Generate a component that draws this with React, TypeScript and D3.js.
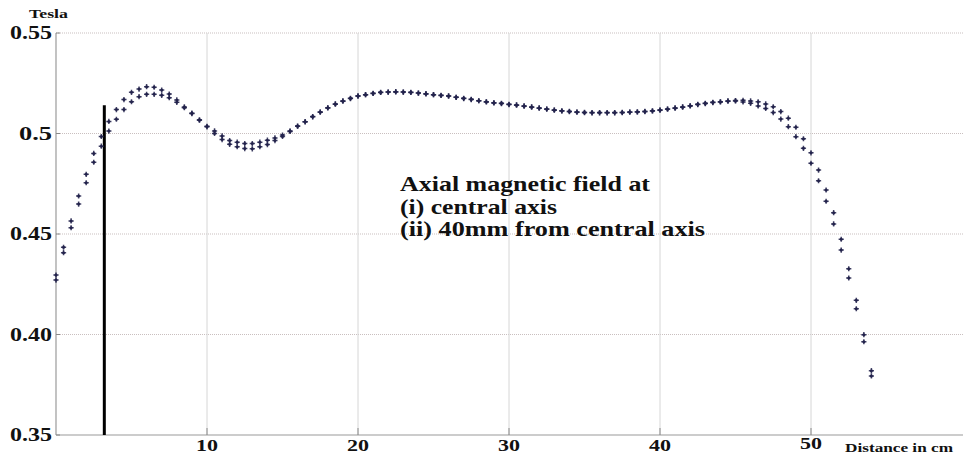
import React from "react";
import * as d3 from "d3";

const distances = [
  0, 0.5, 1, 1.5, 2, 2.5, 3, 3.5, 4, 4.5, 5, 5.5, 6, 6.5, 7, 7.5, 8, 8.5, 9, 9.5,
  10, 10.5, 11, 11.5, 12, 12.5, 13, 13.5, 14, 14.5, 15, 15.5, 16, 16.5, 17, 17.5, 18, 18.5, 19, 19.5,
  20, 20.5, 21, 21.5, 22, 22.5, 23, 23.5, 24, 24.5, 25, 25.5, 26, 26.5, 27, 27.5, 28, 28.5, 29, 29.5,
  30, 30.5, 31, 31.5, 32, 32.5, 33, 33.5, 34, 34.5, 35, 35.5, 36, 36.5, 37, 37.5, 38, 38.5, 39, 39.5,
  40, 40.5, 41, 41.5, 42, 42.5, 43, 43.5, 44, 44.5, 45, 45.5, 46, 46.5, 47, 47.5, 48, 48.5, 49, 49.5,
  50, 50.5, 51, 51.5, 52, 52.5, 53, 53.5, 54,
];

// (i) central axis
const fieldCentral = [
  0.4296, 0.4434, 0.4565, 0.4689, 0.4797, 0.4901, 0.4985, 0.506, 0.5119, 0.5169,
  0.5205, 0.5221, 0.5233, 0.523, 0.5216, 0.5196, 0.5167, 0.5132, 0.5101, 0.5068,
  0.5036, 0.5013, 0.4988, 0.4965, 0.4957, 0.495, 0.495, 0.4957, 0.4967, 0.4978,
  0.4992, 0.5013, 0.5037, 0.5059, 0.5084, 0.5107, 0.5128, 0.5147, 0.5162, 0.5175,
  0.5187, 0.5193, 0.52, 0.5205, 0.5206, 0.5208, 0.5206, 0.5205, 0.5201, 0.5198,
  0.5193, 0.519, 0.5187, 0.518, 0.5175, 0.517, 0.5163, 0.5158, 0.5153, 0.515,
  0.5145, 0.5142, 0.5137, 0.5132, 0.5127, 0.5122, 0.5117, 0.5113, 0.511, 0.5107,
  0.5105, 0.5104, 0.5104, 0.5104, 0.5104, 0.5105, 0.5107, 0.5108, 0.511, 0.5113,
  0.5117, 0.5122, 0.5127, 0.5132, 0.5138, 0.5145, 0.515, 0.5155, 0.5158, 0.5162,
  0.5164, 0.5165, 0.5162, 0.5158, 0.5147, 0.5133, 0.5109, 0.5076, 0.5031, 0.4974,
  0.4904, 0.4818, 0.4719, 0.4606, 0.4474, 0.4327, 0.417, 0.3999, 0.382,
];

// (ii) 40mm from central axis
const fieldOffAxis = [
  0.4271, 0.4407, 0.4531, 0.4649, 0.4755, 0.4857, 0.4937, 0.5012, 0.5071, 0.5119,
  0.5158, 0.5183, 0.5195, 0.5195, 0.519, 0.5178, 0.5155, 0.5128, 0.5099, 0.5066,
  0.5033, 0.5, 0.497, 0.4946, 0.4934, 0.4925, 0.4924, 0.4934, 0.4945, 0.4965,
  0.4985, 0.501, 0.5036, 0.5058, 0.5083, 0.5106, 0.5127, 0.5146, 0.5161, 0.5174,
  0.5186, 0.5193, 0.5199, 0.5204, 0.5206, 0.5207, 0.5206, 0.5204, 0.5201, 0.5197,
  0.5193, 0.5189, 0.5186, 0.518, 0.5174, 0.5169, 0.5163, 0.5157, 0.5152, 0.5149,
  0.5144, 0.5141, 0.5136, 0.5131, 0.5126, 0.5121, 0.5116, 0.5112, 0.5109, 0.5106,
  0.5104, 0.5103, 0.5103, 0.5103, 0.5103, 0.5104, 0.5106, 0.5107, 0.5109, 0.5112,
  0.5116, 0.5121, 0.5126, 0.5131, 0.5137, 0.5144, 0.5149, 0.5154, 0.5157, 0.5161,
  0.5162, 0.5157, 0.515, 0.5137, 0.5125, 0.5104, 0.5072, 0.5034, 0.4984, 0.4926,
  0.4852, 0.4765, 0.4663, 0.455, 0.442, 0.4281, 0.4128, 0.3964, 0.3794,
];

const xTicks = [10, 20, 30, 40, 50];
const yTicks = [0.35, 0.4, 0.45, 0.5, 0.55];
const yTickLabels = ["0.35", "0.40", "0.45", "0.5", "0.55"];
const yTickWidths = [42, 42, 42, 33, 42];

const markerLine = { x: 3.2, top: 0.514 };

const annotation = [
  "Axial magnetic field at",
  "(i) central axis",
  "(ii) 40mm from central axis",
];
const annotationWidths = [250, 157, 305];

const W = 963;
const H = 456;
const x0 = 56;
const x1 = 962;
const yTop = 33;
const yBottom = 435;

export default function App() {
  const x = d3.scaleLinear().domain([0, 60]).range([x0, x1]);
  const y = d3.scaleLinear().domain([0.35, 0.55]).range([yBottom, yTop]);
  const font = "'Liberation Serif', 'Times New Roman', serif";
  const dotColor = "#23234c";
  const series = [fieldCentral, fieldOffAxis];

  return (
    <svg
      width={W}
      height={H}
      style={{ position: "absolute", left: 0, top: 0, background: "#fff" }}
    >
      <rect x={0} y={0} width={W} height={H} fill="#fff" />
      {/* horizontal dotted gridlines */}
      {yTicks.slice(1).map((t) => (
        <line
          key={"hg" + t}
          x1={x0}
          x2={W}
          y1={y(t)}
          y2={y(t)}
          stroke="#c9bfbf"
          strokeWidth={1}
          strokeDasharray="1,1"
        />
      ))}
      {/* vertical gridlines */}
      {xTicks.map((t) => (
        <line
          key={"vg" + t}
          x1={x(t)}
          x2={x(t)}
          y1={yTop}
          y2={yBottom}
          stroke="#d6d6d6"
          strokeWidth={1}
        />
      ))}
      {/* axes */}
      <line x1={x0} x2={x0} y1={yTop} y2={yBottom} stroke="#9a9a9a" strokeWidth={1.2} />
      <line x1={x0} x2={W} y1={yBottom} y2={yBottom} stroke="#9a9a9a" strokeWidth={1.2} />
      {xTicks.map((t) => (
        <line
          key={"xt" + t}
          x1={x(t)}
          x2={x(t)}
          y1={yBottom}
          y2={yBottom - 7}
          stroke="#8a8a8a"
          strokeWidth={1}
        />
      ))}
      {yTicks.map((t) => (
        <line
          key={"yt" + t}
          x1={x0}
          x2={x0 + 4}
          y1={y(t)}
          y2={y(t)}
          stroke="#8a8a8a"
          strokeWidth={1}
        />
      ))}

      {/* vertical black marker */}
      <line
        x1={x(markerLine.x)}
        x2={x(markerLine.x)}
        y1={yBottom}
        y2={y(markerLine.top)}
        stroke="#000"
        strokeWidth={3}
      />

      {/* data points */}
      {series.map((vals, si) =>
        vals.map((v, i) => {
          const cx = x(distances[i]);
          const cy = y(v);
          return (
            <g key={si + "-" + i} transform={`translate(${cx},${cy})`}>
              <path d="M-2.6,0H2.6M0,-2.6V2.6" stroke={dotColor} strokeWidth={1.5} opacity={0.85} />
              <circle r={1.5} fill={dotColor} />
            </g>
          );
        })
      )}

      {/* y tick labels */}
      {yTicks.map((t, i) => (
        <text
          key={"yl" + t}
          x={52 - yTickWidths[i]}
          y={y(t) + 6}
          fontFamily={font}
          fontWeight="bold"
          fontSize={18}
          fill="#111"
          textLength={yTickWidths[i]}
          lengthAdjust="spacingAndGlyphs"
        >
          {yTickLabels[i]}
        </text>
      ))}
      <text
        x={29}
        y={18}
        fontFamily={font}
        fontWeight="bold"
        fontSize={12}
        fill="#111"
        textLength={39}
        lengthAdjust="spacingAndGlyphs"
      >
        Tesla
      </text>

      {/* x tick labels */}
      {xTicks.map((t) => (
        <text
          key={"xl" + t}
          x={x(t) - 11}
          y={t === 50 ? 449 : 451}
          fontFamily={font}
          fontWeight="bold"
          fontSize={17}
          fill="#111"
          textLength={22}
          lengthAdjust="spacingAndGlyphs"
        >
          {t}
        </text>
      ))}
      <text
        x={845}
        y={452}
        fontFamily={font}
        fontWeight="bold"
        fontSize={13}
        fill="#111"
        textLength={108}
        lengthAdjust="spacingAndGlyphs"
      >
        Distance in cm
      </text>

      {/* annotation */}
      {annotation.map((line, i) => (
        <text
          key={"an" + i}
          x={400}
          y={191 + i * 22.5}
          fontFamily={font}
          fontWeight="bold"
          fontSize={21}
          fill="#111"
          textLength={annotationWidths[i]}
          lengthAdjust="spacingAndGlyphs"
        >
          {line}
        </text>
      ))}
    </svg>
  );
}
